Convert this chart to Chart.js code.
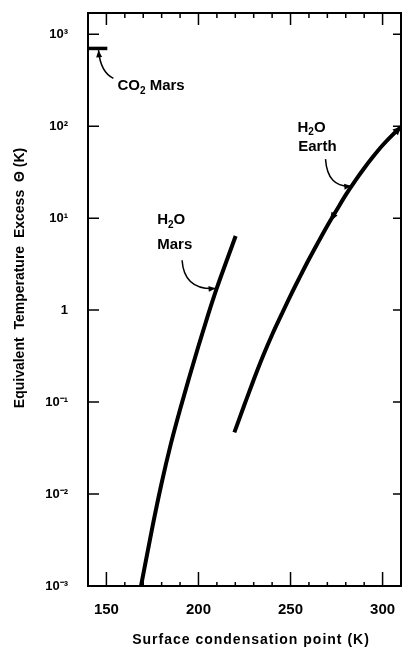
<!DOCTYPE html>
<html>
<head>
<meta charset="utf-8">
<script src="https://cdn.jsdelivr.net/npm/chart.js@4"></script>
<style>
  html, body { margin: 0; padding: 0; background: #fff; }
</style>
</head>
<body>
<canvas id="chart" width="402" height="648"></canvas>
<script>
// axis ticks
const xMajorTicks = [150, 200, 250, 300];
const xMinorTicks = [160, 170, 180, 190, 210, 220, 230, 240, 260, 270, 280, 290];
const yTicks = [0.001, 0.01, 0.1, 1, 10, 100, 1000];
const yTickLabels = ['10\u207B\u00B3', '10\u207B\u00B2', '10\u207B\u00B9', '1', '10\u00B9', '10\u00B2', '10\u00B3'];

// curves
const co2MarsX = [140, 150.5];
const co2MarsY = [700, 700];
const h2oMarsX = [168.8, 175, 180, 185, 190, 195, 200, 205, 210, 215, 220.2];
const h2oMarsY = [0.001, 0.0044, 0.0132, 0.0351, 0.083, 0.186, 0.407, 0.86, 1.74, 3.31, 6.4];
const h2oEarthX = [219.5, 225, 230, 235, 240, 245, 250, 255, 260, 265, 270, 275, 280, 285, 290, 295, 300, 305, 310];
const h2oEarthY = [0.0468, 0.094, 0.175, 0.315, 0.54, 0.886, 1.44, 2.28, 3.57, 5.46, 8.27, 12.2, 17.9, 25.3, 34.9, 47.0, 62.0, 79.0, 98.3];

// labels: [text parts, x, y] in data units (left edge, vertical centre)
const labels = [
  [[['CO', 0], ['2', 1], [' Mars', 0]], 156, 272],
  [[['H', 0], ['2', 1], ['O', 0]], 253.8, 97],
  [[['Earth', 0]], 254.2, 59],
  [[['H', 0], ['2', 1], ['O', 0]], 177.6, 9.5],
  [[['Mars', 0]], 177.6, 5.1]
];
// pointer arrows: start, end (data units) and bend
const arrows = [
  [153.8, 331, 145.7, 670, -1],
  [269, 43.8, 283, 22.3, 1],
  [191.1, 3.49, 209.3, 1.72, 1]
];

const FONT = '"Liberation Sans", Arial, sans-serif';
const pts = (xs, ys) => xs.map((x, i) => ({ x: x, y: ys[i] }));

function drawParts(ctx, parts, x, y) {
  let cx = x;
  parts.forEach(([t, sub]) => {
    ctx.font = sub ? 'bold 10px ' + FONT : 'bold 15px ' + FONT;
    ctx.fillText(t, cx, sub ? y + 5 : y);
    cx += ctx.measureText(t).width;
  });
}

function arrowHead(ctx, x, y, ang, len, w) {
  ctx.beginPath();
  ctx.moveTo(x, y);
  ctx.lineTo(x - len * Math.cos(ang) + w * Math.sin(ang), y - len * Math.sin(ang) - w * Math.cos(ang));
  ctx.lineTo(x - len * Math.cos(ang) - w * Math.sin(ang), y - len * Math.sin(ang) + w * Math.cos(ang));
  ctx.closePath();
  ctx.fill();
}

const decor = {
  id: 'decor',
  afterDatasetsDraw(chart) {
    const { ctx, chartArea: a, scales: { x, y } } = chart;
    ctx.save();
    ctx.strokeStyle = '#000';
    ctx.fillStyle = '#000';

    // frame
    ctx.lineWidth = 2;
    ctx.strokeRect(a.left, a.top, a.right - a.left, a.bottom - a.top);

    // inward ticks
    ctx.lineWidth = 1.5;
    ctx.beginPath();
    xMajorTicks.forEach(v => {
      const p = x.getPixelForValue(v);
      ctx.moveTo(p, a.bottom); ctx.lineTo(p, a.bottom - 14);
      ctx.moveTo(p, a.top); ctx.lineTo(p, a.top + 12);
    });
    xMinorTicks.forEach(v => {
      const p = x.getPixelForValue(v);
      ctx.moveTo(p, a.bottom); ctx.lineTo(p, a.bottom - 4);
      ctx.moveTo(p, a.top); ctx.lineTo(p, a.top + 5);
    });
    yTicks.forEach(v => {
      const p = y.getPixelForValue(v);
      ctx.moveTo(a.left, p); ctx.lineTo(a.left + 11, p);
      ctx.moveTo(a.right, p); ctx.lineTo(a.right - 8, p);
    });
    ctx.stroke();

    // arrows on the Earth curve
    const n = h2oEarthX.length;
    const px = i => x.getPixelForValue(h2oEarthX[i]);
    const py = i => y.getPixelForValue(h2oEarthY[i]);
    arrowHead(ctx, px(n - 1), py(n - 1), Math.atan2(py(n - 1) - py(n - 2), px(n - 1) - px(n - 2)), 8, 4);
    const mx = (px(10) + px(11)) / 2, my = (py(10) + py(11)) / 2;
    const ang = Math.atan2(py(10) - py(11), px(10) - px(11));
    arrowHead(ctx, mx + 4 * Math.cos(ang), my + 4 * Math.sin(ang), ang, 9, 3.5);

    // curve labels
    ctx.textBaseline = 'middle';
    ctx.textAlign = 'left';
    labels.forEach(([parts, lx, ly]) => drawParts(ctx, parts, x.getPixelForValue(lx), y.getPixelForValue(ly)));

    // pointer arrows
    ctx.lineWidth = 1.5;
    arrows.forEach(([x0, y0, x1, y1, bend]) => {
      const sx = x.getPixelForValue(x0), sy = y.getPixelForValue(y0);
      const tx = x.getPixelForValue(x1), ty = y.getPixelForValue(y1);
      const cx = bend > 0 ? sx + 2 : tx + 2;
      const cy = bend > 0 ? ty + 2 : sy - 6;
      ctx.beginPath();
      ctx.moveTo(sx, sy);
      ctx.quadraticCurveTo(cx, cy, tx, ty);
      ctx.stroke();
      arrowHead(ctx, tx, ty, Math.atan2(ty - cy, tx - cx), 7, 3);
    });

    // axis titles
    ctx.font = 'bold 14px ' + FONT;
    ctx.textAlign = 'center';
    ctx.letterSpacing = '1px';
    ctx.fillText('Surface condensation point (K)', 251, 640);
    ctx.letterSpacing = '0px';
    ctx.save();
    ctx.translate(20, 278);
    ctx.rotate(-Math.PI / 2);
    ctx.fillText('Equivalent  Temperature  Excess  \u0398 (K)', 0, 0);
    ctx.restore();
    ctx.restore();
  }
};

new Chart(document.getElementById('chart'), {
  type: 'line',
  data: {
    datasets: [
      { label: 'CO2 Mars', data: pts(co2MarsX, co2MarsY), borderColor: '#000', borderWidth: 3.5, pointRadius: 0 },
      { label: 'H2O Mars', data: pts(h2oMarsX, h2oMarsY), borderColor: '#000', borderWidth: 4, pointRadius: 0, cubicInterpolationMode: 'monotone' },
      { label: 'H2O Earth', data: pts(h2oEarthX, h2oEarthY), borderColor: '#000', borderWidth: 4, pointRadius: 0, cubicInterpolationMode: 'monotone' }
    ]
  },
  options: {
    responsive: false,
    animation: false,
    devicePixelRatio: 1,
    layout: { padding: { top: 13, right: 1, left: 0, bottom: 0 } },
    plugins: { legend: { display: false }, tooltip: { enabled: false } },
    scales: {
      x: {
        type: 'linear',
        min: 140,
        max: 310,
        grid: { display: false, drawTicks: false },
        border: { display: false },
        afterBuildTicks: s => { s.ticks = xMajorTicks.map(v => ({ value: v })); },
        afterFit: s => { s.height = 62; s.paddingLeft = 0; s.paddingRight = 0; },
        ticks: { padding: 15, color: '#000', font: { family: FONT, size: 15, weight: 'bold' } }
      },
      y: {
        type: 'logarithmic',
        min: 0.001,
        max: 1700,
        grid: { display: false, drawTicks: false },
        border: { display: false },
        afterBuildTicks: s => { s.ticks = yTicks.map(v => ({ value: v })); },
        afterFit: s => { s.width = 88; s.paddingTop = 0; s.paddingBottom = 0; },
        ticks: {
          padding: 20,
          color: '#000',
          font: { family: FONT, size: 13, weight: 'bold' },
          callback: (v) => yTickLabels[yTicks.indexOf(v)]
        }
      }
    }
  },
  plugins: [decor]
});
</script>
</body>
</html>
